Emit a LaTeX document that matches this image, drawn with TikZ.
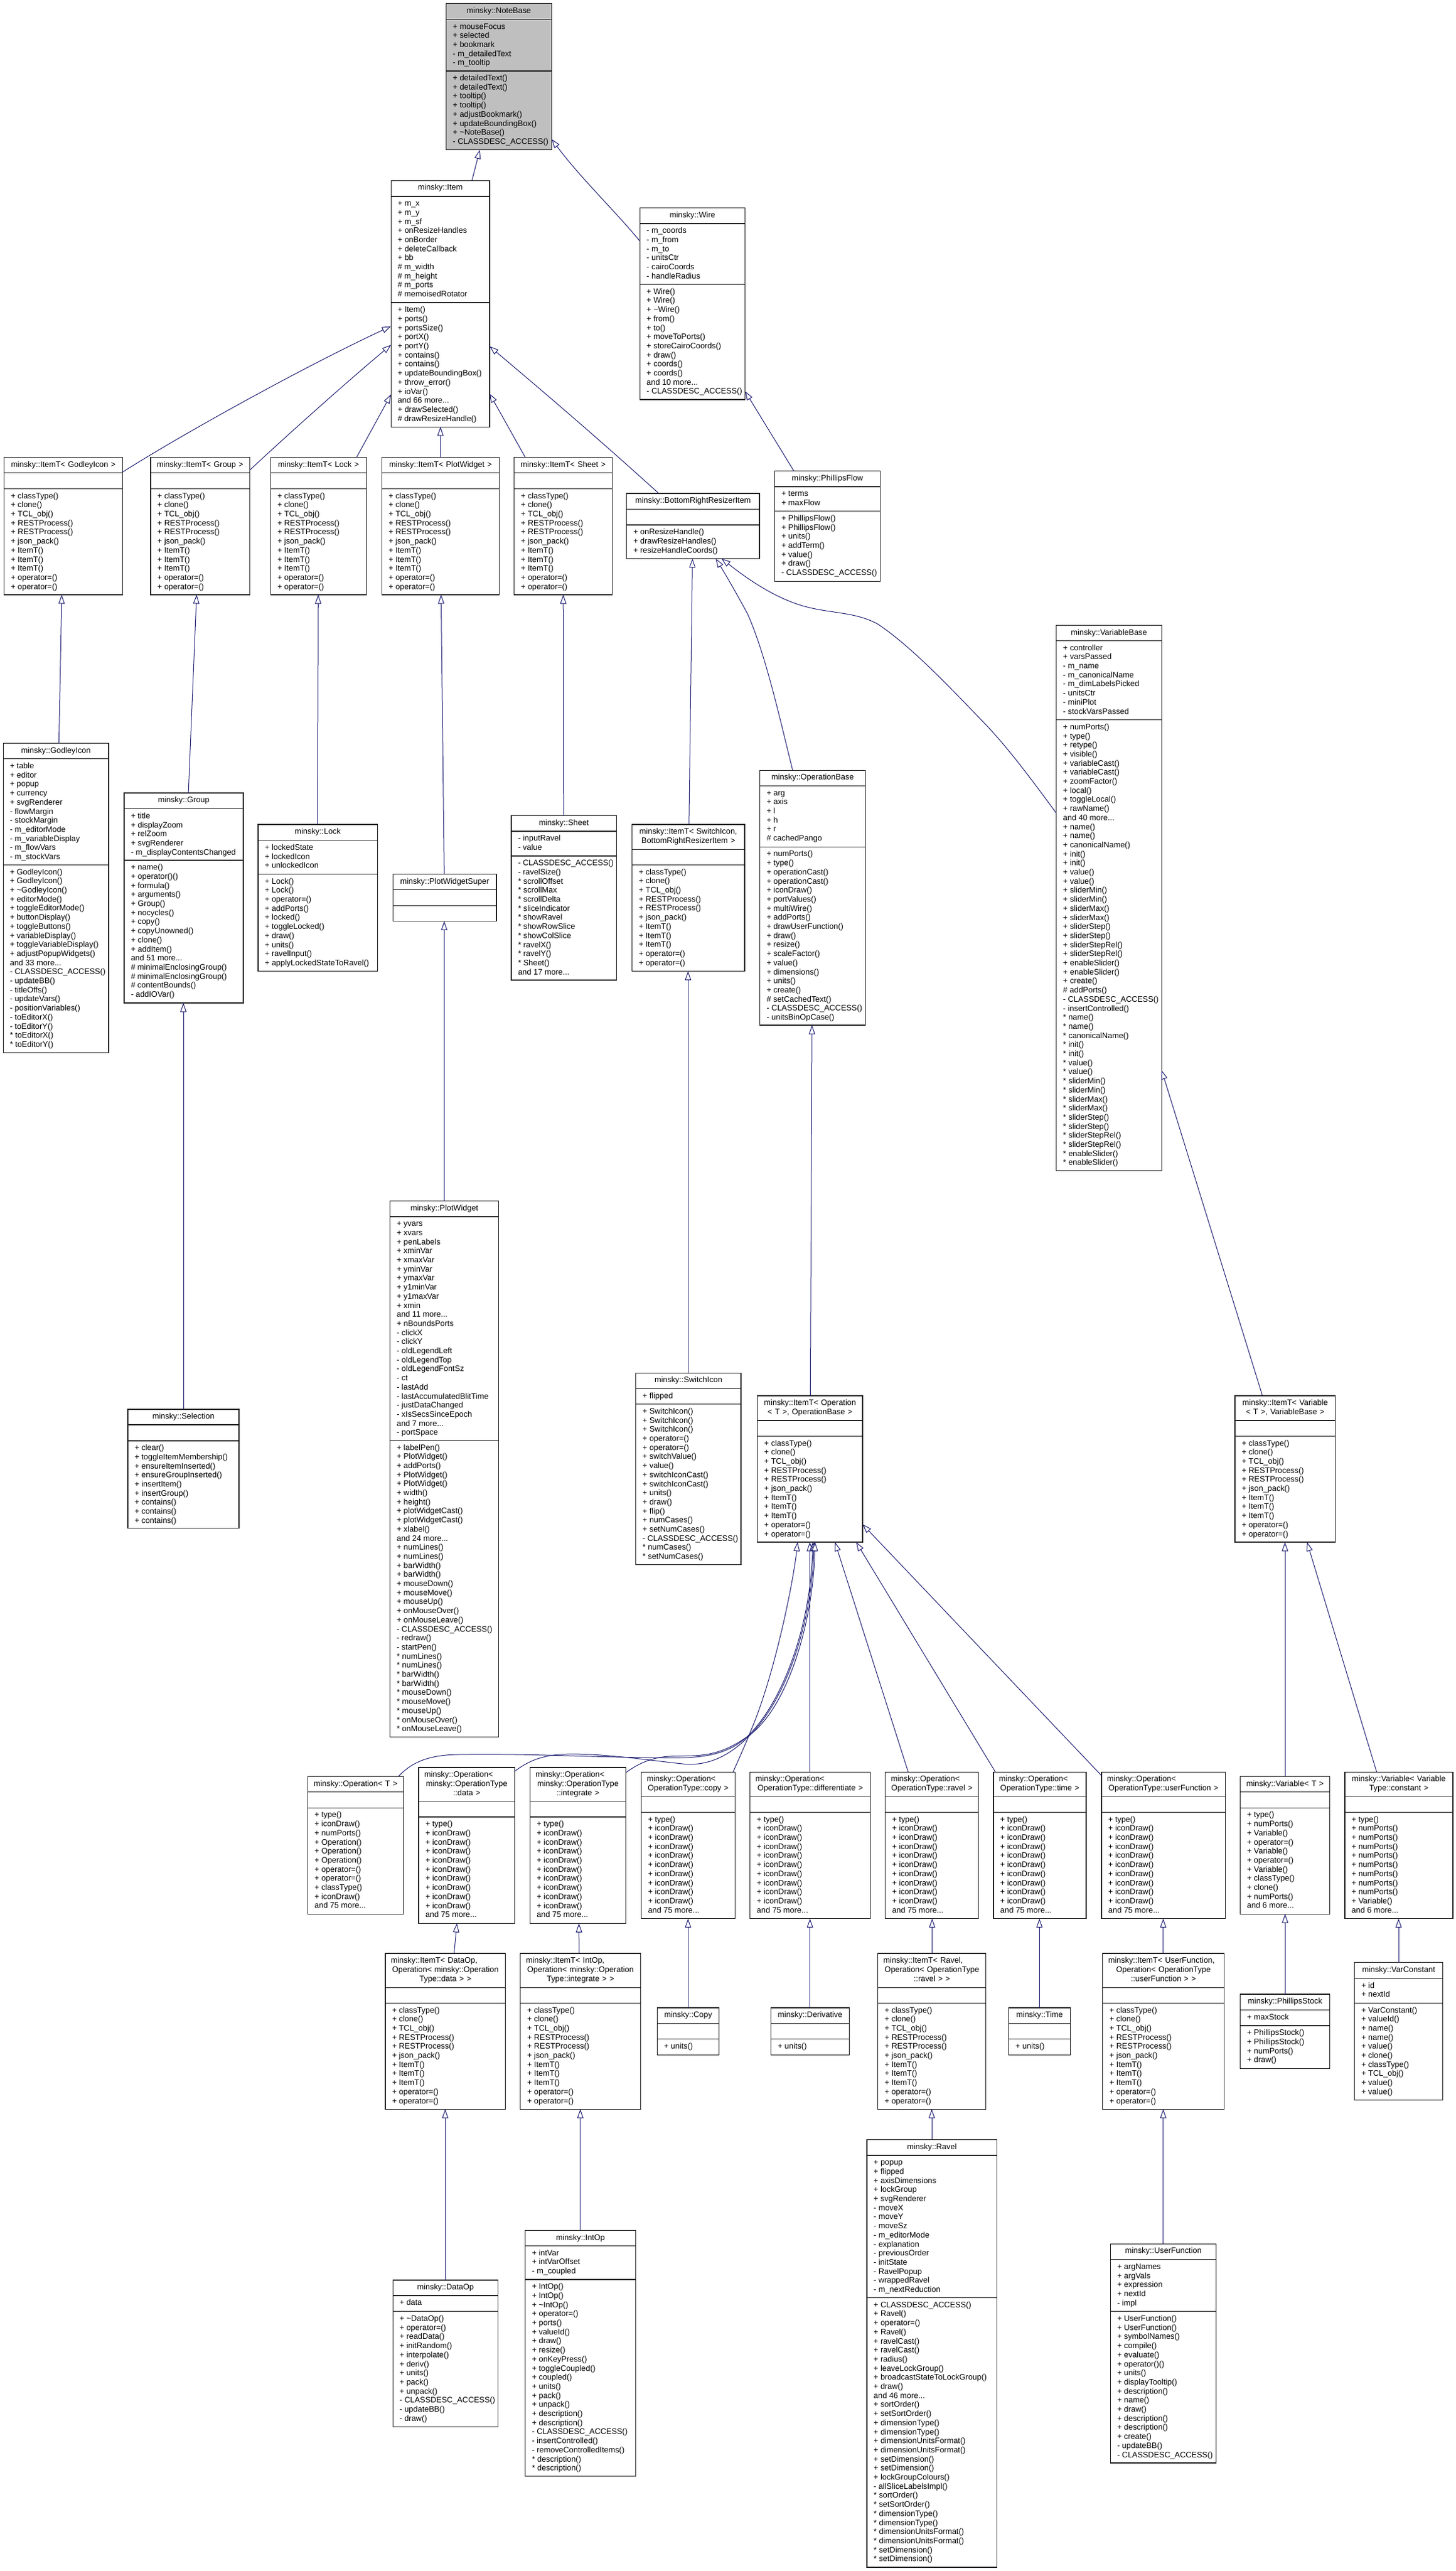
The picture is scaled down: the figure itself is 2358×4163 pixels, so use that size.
\documentclass[tikz,border=0pt]{standalone}
\usepackage{fontspec}
\setmainfont{Liberation Sans}
\usetikzlibrary{arrows.meta}
\definecolor{edgeblue}{HTML}{191970}
\definecolor{rootgrey}{HTML}{BFBFBF}
\definecolor{boxline}{HTML}{1A1A1A}
\tikzset{
  classbox/.style={draw=boxline,line width=1.2pt,rectangle,inner sep=0pt,outer sep=0pt,anchor=north west},
  sepline/.style={draw=boxline,line width=1.2pt},
  cltext/.style={inner sep=0pt,outer sep=0pt,font=\fontsize{12.9}{14.7}\selectfont,text=black},
  inh/.style={draw=edgeblue,line width=1pt,{Triangle[length=14.5pt,width=10pt,fill=white,line width=1pt]}-},
}
\newcommand{\cls}[8][]{%
  \def\cname{#2}\def\xa{#3}\def\ya{#4}\def\xb{#5}\def\yb{#6}\def\sa{#7}\def\sb{#8}%
  \node[classbox,#1,minimum width={#5-#3},minimum height={#6-#4}] (#2) at (#3,#4) {};%
  \draw[sepline] (#2.west |- 0,#7) -- (#2.east |- 0,#7);%
  \draw[sepline] (#2.west |- 0,#8) -- (#2.east |- 0,#8);%
}
\newcommand{\secs}[3]{%
  \pgfmathsetlengthmacro{\tw}{\xb-\xa-4}%
  \node[cltext,anchor=north,text width=\tw,align=center] (\cname-t) at ({(\xa+\xb)/2},{\ya+5.4}) {\strut #1};%
  \if\relax\detokenize{#2}\relax\else
  \node[cltext,anchor=north west,align=left] (\cname-a) at ({\xa+11},{\sa+5.4}) {\strut #2};%
  \fi
  \if\relax\detokenize{#3}\relax\else
  \node[cltext,anchor=north west,align=left] (\cname-m) at ({\xa+11},{\sb+5.4}) {\strut #3};%
  \fi
}
\newcommand{\tlx}[1]{\hbox to\hsize{\strut\hspace{7pt}#1\hfil}}
\newcommand{\itemtlines}{+ classType()\\+ clone()\\+ TCL\_obj()\\+ RESTProcess()\\+ RESTProcess()\\+ json\_pack()\\+ ItemT()\\+ ItemT()\\+ ItemT()\\+ operator=()\\+ operator=()}
\newcommand{\oplines}{+ type()\\+ iconDraw()\\+ iconDraw()\\+ iconDraw()\\+ iconDraw()\\+ iconDraw()\\+ iconDraw()\\+ iconDraw()\\+ iconDraw()\\+ iconDraw()\\and 75 more...}
\begin{document}
\begin{tikzpicture}[x=1pt,y=-1pt]
\useasboundingbox[fill=white] (0,0) rectangle (2358,4163);

% ---- classes ----
\cls[fill=rootgrey]{NoteBase}{722.4}{5.8}{893.4}{242.8}{31.5}{114.9}
\secs{minsky::NoteBase}{+ mouseFocus\\+ selected\\+ bookmark\\- m\_detailedText\\- m\_tooltip}{+ detailedText()\\+ detailedText()\\+ tooltip()\\+ tooltip()\\+ adjustBookmark()\\+ updateBoundingBox()\\+ \textasciitilde NoteBase()\\- CLASSDESC\_ACCESS()}

\cls{Item}{633.2}{292.3}{792.9}{691.2}{318}{490}
\secs{minsky::Item}{+ m\_x\\+ m\_y\\+ m\_sf\\+ onResizeHandles\\+ onBorder\\+ deleteCallback\\+ bb\\\# m\_width\\\# m\_height\\\# m\_ports\\\# memoisedRotator}{+ Item()\\+ ports()\\+ portsSize()\\+ portX()\\+ portY()\\+ contains()\\+ contains()\\+ updateBoundingBox()\\+ throw\_error()\\+ ioVar()\\and 66 more...\\+ drawSelected()\\\# drawResizeHandle()}

\cls{Wire}{1036.2}{336.4}{1206.6}{647}{362}{460.5}
\secs{minsky::Wire}{- m\_coords\\- m\_from\\- m\_to\\- unitsCtr\\- cairoCoords\\- handleRadius}{+ Wire()\\+ Wire()\\+ \textasciitilde Wire()\\+ from()\\+ to()\\+ moveToPorts()\\+ storeCairoCoords()\\+ draw()\\+ coords()\\+ coords()\\and 10 more...\\- CLASSDESC\_ACCESS()}

\cls{ITGodley}{6.6}{740.3}{198.5}{963}{765.6}{791.4}
\secs{minsky::ItemT< GodleyIcon >}{}{\itemtlines}
\cls{ITGroup}{243.9}{740.3}{404.1}{963}{765.6}{791.4}
\secs{minsky::ItemT< Group >}{}{\itemtlines}
\cls{ITLock}{438.3}{740.3}{593.4}{963}{765.6}{791.4}
\secs{minsky::ItemT< Lock >}{}{\itemtlines}
\cls{ITPlot}{618.4}{740.3}{808.4}{963}{765.6}{791.4}
\secs{minsky::ItemT< PlotWidget >}{}{\itemtlines}
\cls{ITSheet}{832.7}{740.3}{991.3}{963}{765.6}{791.4}
\secs{minsky::ItemT< Sheet >}{}{\itemtlines}

\cls{Bottom}{1014.8}{798.9}{1230}{904.5}{824.7}{850}
\secs{minsky::BottomRightResizerItem}{}{+ onResizeHandle()\\+ drawResizeHandles()\\+ resizeHandleCoords()}

\cls{PhFlow}{1254.6}{762.7}{1425.5}{941.2}{788}{827.6}
\secs{minsky::PhillipsFlow}{+ terms\\+ maxFlow}{+ PhillipsFlow()\\+ PhillipsFlow()\\+ units()\\+ addTerm()\\+ value()\\+ draw()\\- CLASSDESC\_ACCESS()}

\cls{Godley}{5.1}{1203.6}{176}{1704.5}{1228.8}{1400.4}
\secs{minsky::GodleyIcon}{+ table\\+ editor\\+ popup\\+ currency\\+ svgRenderer\\- flowMargin\\- stockMargin\\- m\_editorMode\\- m\_variableDisplay\\- m\_flowVars\\- m\_stockVars}{+ GodleyIcon()\\+ GodleyIcon()\\+ \textasciitilde GodleyIcon()\\+ editorMode()\\+ toggleEditorMode()\\+ buttonDisplay()\\+ toggleButtons()\\+ variableDisplay()\\+ toggleVariableDisplay()\\+ adjustPopupWidgets()\\and 33 more...\\- CLASSDESC\_ACCESS()\\- updateBB()\\- titleOffs()\\- updateVars()\\- positionVariables()\\- toEditorX()\\- toEditorY()\\{}* toEditorX()\\{}* toEditorY()}

\cls{Group}{201}{1283.9}{393.9}{1624}{1309.7}{1393}
\secs{minsky::Group}{+ title\\+ displayZoom\\+ relZoom\\+ svgRenderer\\- m\_displayContentsChanged}{+ name()\\+ operator()()\\+ formula()\\+ arguments()\\+ Group()\\+ nocycles()\\+ copy()\\+ copyUnowned()\\+ clone()\\+ addItem()\\and 51 more...\\\# minimalEnclosingGroup()\\\# minimalEnclosingGroup()\\\# contentBounds()\\- addIOVar()}

\cls{Lock}{417.9}{1335}{611.2}{1572.6}{1360.8}{1415.4}
\secs{minsky::Lock}{+ lockedState\\+ lockedIcon\\+ unlockedIcon}{+ Lock()\\+ Lock()\\+ operator=()\\+ addPorts()\\+ locked()\\+ toggleLocked()\\+ draw()\\+ units()\\+ ravelInput()\\+ applyLockedStateToRavel()}

\cls{PWSuper}{636.2}{1415.4}{804}{1491.7}{1440.6}{1466.4}
\secs{minsky::PlotWidgetSuper}{}{}

\cls{Sheet}{828}{1320.7}{998.5}{1587}{1345.9}{1386}
\secs{minsky::Sheet}{- inputRavel\\- value}{- CLASSDESC\_ACCESS()\\- ravelSize()\\{}* scrollOffset\\{}* scrollMax\\{}* scrollDelta\\{}* sliceIndicator\\{}* showRavel\\{}* showRowSlice\\{}* showColSlice\\{}* ravelX()\\{}* ravelY()\\{}* Sheet()\\and 17 more...}

\cls{ITSwitch}{1023.5}{1335}{1206}{1572.6}{1375.2}{1400.4}
\secs{minsky::ItemT< SwitchIcon,\\BottomRightResizerItem >}{}{\itemtlines}

\cls{OpBase}{1230.6}{1247.2}{1401.5}{1660}{1272.4}{1371.2}
\secs{minsky::OperationBase}{+ arg\\+ axis\\+ l\\+ h\\+ r\\\# cachedPango}{+ numPorts()\\+ type()\\+ operationCast()\\+ operationCast()\\+ iconDraw()\\+ portValues()\\+ multiWire()\\+ addPorts()\\+ drawUserFunction()\\+ draw()\\+ resize()\\+ scaleFactor()\\+ value()\\+ dimensions()\\+ units()\\+ create()\\\# setCachedText()\\- CLASSDESC\_ACCESS()\\- unitsBinOpCase()}

\cls{VarBase}{1710.7}{1012.5}{1881.3}{1895.2}{1037.4}{1165.6}
\secs{minsky::VariableBase}{+ controller\\+ varsPassed\\- m\_name\\- m\_canonicalName\\- m\_dimLabelsPicked\\- unitsCtr\\- miniPlot\\- stockVarsPassed}{+ numPorts()\\+ type()\\+ retype()\\+ visible()\\+ variableCast()\\+ variableCast()\\+ zoomFactor()\\+ local()\\+ toggleLocal()\\+ rawName()\\and 40 more...\\+ name()\\+ name()\\+ canonicalName()\\+ init()\\+ init()\\+ value()\\+ value()\\+ sliderMin()\\+ sliderMin()\\+ sliderMax()\\+ sliderMax()\\+ sliderStep()\\+ sliderStep()\\+ sliderStepRel()\\+ sliderStepRel()\\+ enableSlider()\\+ enableSlider()\\+ create()\\\# addPorts()\\- CLASSDESC\_ACCESS()\\- insertControlled()\\{}* name()\\{}* name()\\{}* canonicalName()\\{}* init()\\{}* init()\\{}* value()\\{}* value()\\{}* sliderMin()\\{}* sliderMin()\\{}* sliderMax()\\{}* sliderMax()\\{}* sliderStep()\\{}* sliderStep()\\{}* sliderStepRel()\\{}* sliderStepRel()\\{}* enableSlider()\\{}* enableSlider()}

\cls{Selection}{207}{2281.9}{387}{2474.8}{2307}{2333}
\secs{minsky::Selection}{}{+ clear()\\+ toggleItemMembership()\\+ ensureItemInserted()\\+ ensureGroupInserted()\\+ insertItem()\\+ insertGroup()\\+ contains()\\+ contains()\\+ contains()}

\cls{PlotWidget}{631.6}{1944.6}{807.8}{2812.5}{1970}{2332.3}
\secs{minsky::PlotWidget}{+ yvars\\+ xvars\\+ penLabels\\+ xminVar\\+ xmaxVar\\+ yminVar\\+ ymaxVar\\+ y1minVar\\+ y1maxVar\\+ xmin\\and 11 more...\\+ nBoundsPorts\\- clickX\\- clickY\\- oldLegendLeft\\- oldLegendTop\\- oldLegendFontSz\\- ct\\- lastAdd\\- lastAccumulatedBlitTime\\- justDataChanged\\- xIsSecsSinceEpoch\\and 7 more...\\- portSpace}{+ labelPen()\\+ PlotWidget()\\+ addPorts()\\+ PlotWidget()\\+ PlotWidget()\\+ width()\\+ height()\\+ plotWidgetCast()\\+ plotWidgetCast()\\+ xlabel()\\and 24 more...\\+ numLines()\\+ numLines()\\+ barWidth()\\+ barWidth()\\+ mouseDown()\\+ mouseMove()\\+ mouseUp()\\+ onMouseOver()\\+ onMouseLeave()\\- CLASSDESC\_ACCESS()\\- redraw()\\- startPen()\\{}* numLines()\\{}* numLines()\\{}* barWidth()\\{}* barWidth()\\{}* mouseDown()\\{}* mouseMove()\\{}* mouseUp()\\{}* onMouseOver()\\{}* onMouseLeave()}

\cls{Switch}{1029.7}{2223.2}{1200}{2533.7}{2248.4}{2273.7}
\secs{minsky::SwitchIcon}{+ flipped}{+ SwitchIcon()\\+ SwitchIcon()\\+ SwitchIcon()\\+ operator=()\\+ operator=()\\+ switchValue()\\+ value()\\+ switchIconCast()\\+ switchIconCast()\\+ units()\\+ draw()\\+ flip()\\+ numCases()\\+ setNumCases()\\- CLASSDESC\_ACCESS()\\{}* numCases()\\{}* setNumCases()}

\cls{ITOp}{1226.7}{2259.9}{1397}{2497}{2300}{2325.3}
\secs{minsky::ItemT< Operation\\< T >, OperationBase >}{}{\itemtlines}

\cls{ITVar}{2000}{2259.9}{2162.8}{2497}{2300}{2325.3}
\secs{minsky::ItemT< Variable\\< T >, VariableBase >}{}{\itemtlines}

\cls{OpT}{498.4}{2876.3}{653.3}{3099.1}{2901.8}{2927.2}
\secs{minsky::Operation< T >}{}{+ type()\\+ iconDraw()\\+ numPorts()\\+ Operation()\\+ Operation()\\+ Operation()\\+ operator=()\\+ operator=()\\+ classType()\\+ iconDraw()\\and 75 more...}

\cls{OpData}{678}{2862}{833.6}{3114.3}{2916.5}{2942}
\secs{\tlx{minsky::Operation<}\\minsky::OperationType\\::data >}{}{\oplines}
\cls{OpInt}{858.3}{2862}{1013.8}{3114.3}{2916.5}{2942}
\secs{\tlx{minsky::Operation<}\\minsky::OperationType\\::integrate >}{}{\oplines}
\cls{OpCopy}{1038.5}{2869.2}{1190.6}{3106.7}{2908.5}{2934.4}
\secs{\tlx{minsky::Operation<}\\OperationType::copy >}{}{\oplines}
\cls{OpDiff}{1214.7}{2869.2}{1409.6}{3106.7}{2908.5}{2934.4}
\secs{\tlx{minsky::Operation<}\\OperationType::differentiate >}{}{\oplines}
\cls{OpRavel}{1433.8}{2869.2}{1584.7}{3106.7}{2908.5}{2934.4}
\secs{\tlx{minsky::Operation<}\\OperationType::ravel >}{}{\oplines}
\cls{OpTime}{1608.9}{2869.2}{1759}{3106.7}{2908.5}{2934.4}
\secs{\tlx{minsky::Operation<}\\OperationType::time >}{}{\oplines}
\cls{OpUser}{1783.9}{2869.2}{1984.4}{3106.7}{2908.5}{2934.4}
\secs{\tlx{minsky::Operation<}\\OperationType::userFunction >}{}{\oplines}

\cls{VarT}{2008.6}{2876.3}{2153.7}{3099.1}{2901.8}{2927.2}
\secs{minsky::Variable< T >}{}{+ type()\\+ numPorts()\\+ Variable()\\+ operator=()\\+ Variable()\\+ operator=()\\+ Variable()\\+ classType()\\+ clone()\\+ numPorts()\\and 6 more...}
\cls{VarCon}{2177.9}{2869.2}{2352.9}{3106.7}{2908.5}{2934.4}
\secs{minsky::Variable< Variable\\Type::constant >}{}{+ type()\\+ numPorts()\\+ numPorts()\\+ numPorts()\\+ numPorts()\\+ numPorts()\\+ numPorts()\\+ numPorts()\\+ numPorts()\\+ Variable()\\and 6 more...}

\cls{ITData}{624}{3162.9}{818.7}{3415.2}{3218.3}{3243.3}
\secs{\tlx{minsky::ItemT< DataOp,}\\Operation< minsky::Operation\\Type::data > >}{}{\itemtlines}
\cls{ITInt}{842.8}{3162.9}{1037.4}{3415.2}{3218.3}{3243.3}
\secs{\tlx{minsky::ItemT< IntOp,}\\Operation< minsky::Operation\\Type::integrate > >}{}{\itemtlines}
\cls{ITRavel}{1421.7}{3162.9}{1596.8}{3415.2}{3218.3}{3243.3}
\secs{\tlx{minsky::ItemT< Ravel,}\\Operation< OperationType\\::ravel > >}{}{\itemtlines}
\cls{ITUser}{1785.8}{3162.9}{1982.5}{3415.2}{3218.3}{3243.3}
\secs{\tlx{minsky::ItemT< UserFunction,}\\Operation< OperationType\\::userFunction > >}{}{\itemtlines}

\cls{Copy}{1064.3}{3250.9}{1164.8}{3327.2}{3276.3}{3301.8}
\secs{minsky::Copy}{}{+ units()}
\cls{Derivative}{1248.6}{3250.9}{1375.4}{3327.2}{3276.3}{3301.8}
\secs{minsky::Derivative}{}{+ units()}
\cls{Time}{1633.7}{3250.9}{1733.6}{3327.2}{3276.3}{3301.8}
\secs{minsky::Time}{}{+ units()}

\cls{PhStock}{2008.6}{3229}{2153.7}{3349.1}{3254.4}{3279.9}
\secs{minsky::PhillipsStock}{+ maxStock}{+ PhillipsStock()\\+ PhillipsStock()\\+ numPorts()\\+ draw()}
\cls{VarConst}{2193.8}{3177.7}{2336.4}{3400.4}{3203.5}{3243.3}
\secs{minsky::VarConstant}{+ id\\+ nextId}{+ VarConstant()\\+ valueId()\\+ name()\\+ name()\\+ value()\\+ clone()\\+ classType()\\+ TCL\_obj()\\+ value()\\+ value()}

\cls{DataOp}{636.2}{3691.9}{806.6}{3929.3}{3716.9}{3742.8}
\secs{minsky::DataOp}{+ data}{+ \textasciitilde DataOp()\\+ operator=()\\+ readData()\\+ initRandom()\\+ interpolate()\\+ deriv()\\+ units()\\+ pack()\\+ unpack()\\- CLASSDESC\_ACCESS()\\- updateBB()\\- draw()}
\cls{IntOp}{850.5}{3611.4}{1029.6}{4009.7}{3636.4}{3691}
\secs{minsky::IntOp}{+ intVar\\+ intVarOffset\\- m\_coupled}{+ IntOp()\\+ IntOp()\\+ \textasciitilde IntOp()\\+ operator=()\\+ ports()\\+ valueId()\\+ draw()\\+ resize()\\+ onKeyPress()\\+ toggleCoupled()\\+ coupled()\\+ units()\\+ pack()\\+ unpack()\\+ description()\\+ description()\\- CLASSDESC\_ACCESS()\\- insertControlled()\\- removeControlledItems()\\{}* description()\\{}* description()}
\cls{Ravel}{1403.9}{3464.4}{1614.6}{4157}{3490}{3720.5}
\secs{minsky::Ravel}{+ popup\\+ flipped\\+ axisDimensions\\+ lockGroup\\+ svgRenderer\\- moveX\\- moveY\\- moveSz\\- m\_editorMode\\- explanation\\- previousOrder\\- initState\\- RavelPopup\\- wrappedRavel\\- m\_nextReduction}{+ CLASSDESC\_ACCESS()\\+ Ravel()\\+ operator=()\\+ Ravel()\\+ ravelCast()\\+ ravelCast()\\+ radius()\\+ leaveLockGroup()\\+ broadcastStateToLockGroup()\\+ draw()\\and 46 more...\\+ sortOrder()\\+ setSortOrder()\\+ dimensionType()\\+ dimensionType()\\+ dimensionUnitsFormat()\\+ dimensionUnitsFormat()\\+ setDimension()\\+ setDimension()\\+ lockGroupColours()\\- allSliceLabelsImpl()\\{}* sortOrder()\\{}* setSortOrder()\\{}* dimensionType()\\{}* dimensionType()\\{}* dimensionUnitsFormat()\\{}* dimensionUnitsFormat()\\{}* setDimension()\\{}* setDimension()}
\cls{UserFn}{1798.3}{3633.2}{1969.7}{3987.9}{3658.7}{3742.8}
\secs{minsky::UserFunction}{+ argNames\\+ argVals\\+ expression\\+ nextId\\- impl}{+ UserFunction()\\+ UserFunction()\\+ symbolNames()\\+ compile()\\+ evaluate()\\+ operator()()\\+ units()\\+ displayTooltip()\\+ description()\\+ name()\\+ draw()\\+ description()\\+ description()\\+ create()\\- updateBB()\\- CLASSDESC\_ACCESS()}

% ---- inheritance edges, tip at the parent ----
\draw[inh] (NoteBase.south -| 777,0) -- (Item.north -| 764.3,0);
\draw[inh] (NoteBase.east |- 0,225.4) .. controls (940,288) and (990,335) .. (Wire.west |- 0,390.2);
\draw[inh] (Item.west |- 0,528.3) .. controls (500,590) and (300,700) .. (ITGodley.east |- 0,764.4);
\draw[inh] (Item.west |- 0,558.4) .. controls (560,620) and (470,700) .. (ITGroup.east |- 0,761.6);
\draw[inh] (Item.west |- 0,638.8) -- (ITLock.north -| 577.6,0);
\draw[inh] (Item.south -| 713.3,0) -- (ITPlot.north -| 713.3,0);
\draw[inh] (Item.east |- 0,637.4) -- (ITSheet.north -| 850.5,0);
\draw[inh] (Item.east |- 0,560.8) .. controls (870,626) and (960,702) .. (Bottom.north -| 1066.8,0);
\draw[inh] (Wire.east |- 0,633.5) -- (PhFlow.north -| 1285.7,0);
\draw[inh] (ITGodley.south -| 100,0) -- (Godley.north -| 95.4,0);
\draw[inh] (ITGroup.south -| 318.4,0) -- (Group.north -| 305.1,0);
\draw[inh] (ITLock.south -| 515.3,0) -- (Lock.north -| 514.3,0);
\draw[inh] (ITPlot.south -| 714.3,0) -- (PWSuper.north -| 719.4,0);
\draw[inh] (PWSuper.south -| 719.4,0) -- (PlotWidget.north -| 719.4,0);
\draw[inh] (Group.south -| 297,0) -- (Selection.north -| 297,0);
\draw[inh] (ITSheet.south -| 912.2,0) -- (Sheet.north -| 912.8,0);
\draw[inh] (Bottom.south -| 1121.4,0) -- (ITSwitch.north -| 1115.8,0);
\draw[inh] (Bottom.south -| 1159.2,0) .. controls (1175,930) and (1195,965) .. (1210.7,994) .. controls (1240,1060) and (1262,1160) .. (OpBase.north -| 1283.7,0);
\draw[inh] (Bottom.south -| 1168.4,0) .. controls (1195,925) and (1245,965) .. (1300,981) .. controls (1345,994) and (1385,990) .. (1422.4,1011) .. controls (1480,1050) and (1545,1120) .. (1600,1177) .. controls (1640,1220) and (1680,1275) .. (VarBase.west |- 0,1316.7);
\draw[inh] (ITSwitch.south -| 1114.3,0) -- (Switch.north -| 1114.3,0);
\draw[inh] (OpBase.south -| 1315,0) -- (ITOp.north -| 1312.4,0);
\draw[inh] (VarBase.east |- 0,1733) -- (ITVar.north -| 2044.5,0);
% Operation< ... > to ItemT< Operation ... >
\draw[inh] (ITOp.south -| 1291.7,0) .. controls (1285,2560) and (1255,2710) .. (1217,2800) .. controls (1207,2825) and (1197,2847) .. (OpCopy.north -| 1187.2,0);
\draw[inh] (ITOp.south -| 1311.5,0) -- (OpDiff.north -| 1311.7,0);
\draw[inh] (ITOp.south -| 1316.4,0) .. controls (1312,2640) and (1265,2760) .. (1209,2813) .. controls (1170,2848) and (1120,2847) .. (1060,2846) .. controls (950,2845) and (850,2839) .. (740,2841) .. controls (700,2842) and (670,2850) .. (OpT.north -| 645.3,0);
\draw[inh] (ITOp.south -| 1318.2,0) .. controls (1314,2640) and (1267,2762) .. (1209,2815) .. controls (1175,2848) and (1140,2860) .. (1105,2856) .. controls (1050,2850) and (990,2841) .. (930,2840) .. controls (885,2840) and (860,2848) .. (OpData.east |- 0,2868);
\draw[inh] (ITOp.south -| 1320,0) .. controls (1316,2640) and (1270,2770) .. (1213,2810) .. controls (1185,2830) and (1160,2842) .. (1120,2843) .. controls (1085,2844) and (1055,2840) .. (OpInt.east |- 0,2870);
\draw[inh] (ITOp.south -| 1352.2,0) -- (OpRavel.north -| 1470.8,0);
\draw[inh] (ITOp.south -| 1386.6,0) -- (OpTime.north -| 1612,0);
\draw[inh] (ITOp.east |- 0,2468.3) -- (OpUser.west |- 0,2875);
% Variable
\draw[inh] (ITVar.south -| 2081,0) -- (VarT.north -| 2081,0);
\draw[inh] (ITVar.south -| 2116.7,0) -- (VarCon.north -| 2229.5,0);
% lower ranks
\draw[inh] (OpData.south -| 740,0) -- (ITData.north -| 735.4,0);
\draw[inh] (OpInt.south -| 937.5,0) -- (ITInt.north -| 938,0);
\draw[inh] (OpCopy.south -| 1114.3,0) -- (Copy.north -| 1114.3,0);
\draw[inh] (OpDiff.south -| 1311.7,0) -- (Derivative.north -| 1311.7,0);
\draw[inh] (OpRavel.south -| 1509.6,0) -- (ITRavel.north -| 1509.6,0);
\draw[inh] (OpTime.south -| 1683.3,0) -- (Time.north -| 1683.3,0);
\draw[inh] (OpUser.south -| 1883.8,0) -- (ITUser.north -| 1883.8,0);
\draw[inh] (VarT.south -| 2081.2,0) -- (PhStock.north -| 2081.2,0);
\draw[inh] (VarCon.south -| 2265,0) -- (VarConst.north -| 2265,0);
\draw[inh] (ITData.south -| 721,0) -- (DataOp.north -| 721,0);
\draw[inh] (ITInt.south -| 939.8,0) -- (IntOp.north -| 939.8,0);
\draw[inh] (ITRavel.south -| 1509,0) -- (Ravel.north -| 1509,0);
\draw[inh] (ITUser.south -| 1883.8,0) -- (UserFn.north -| 1883.8,0);
\end{tikzpicture}
\end{document}
